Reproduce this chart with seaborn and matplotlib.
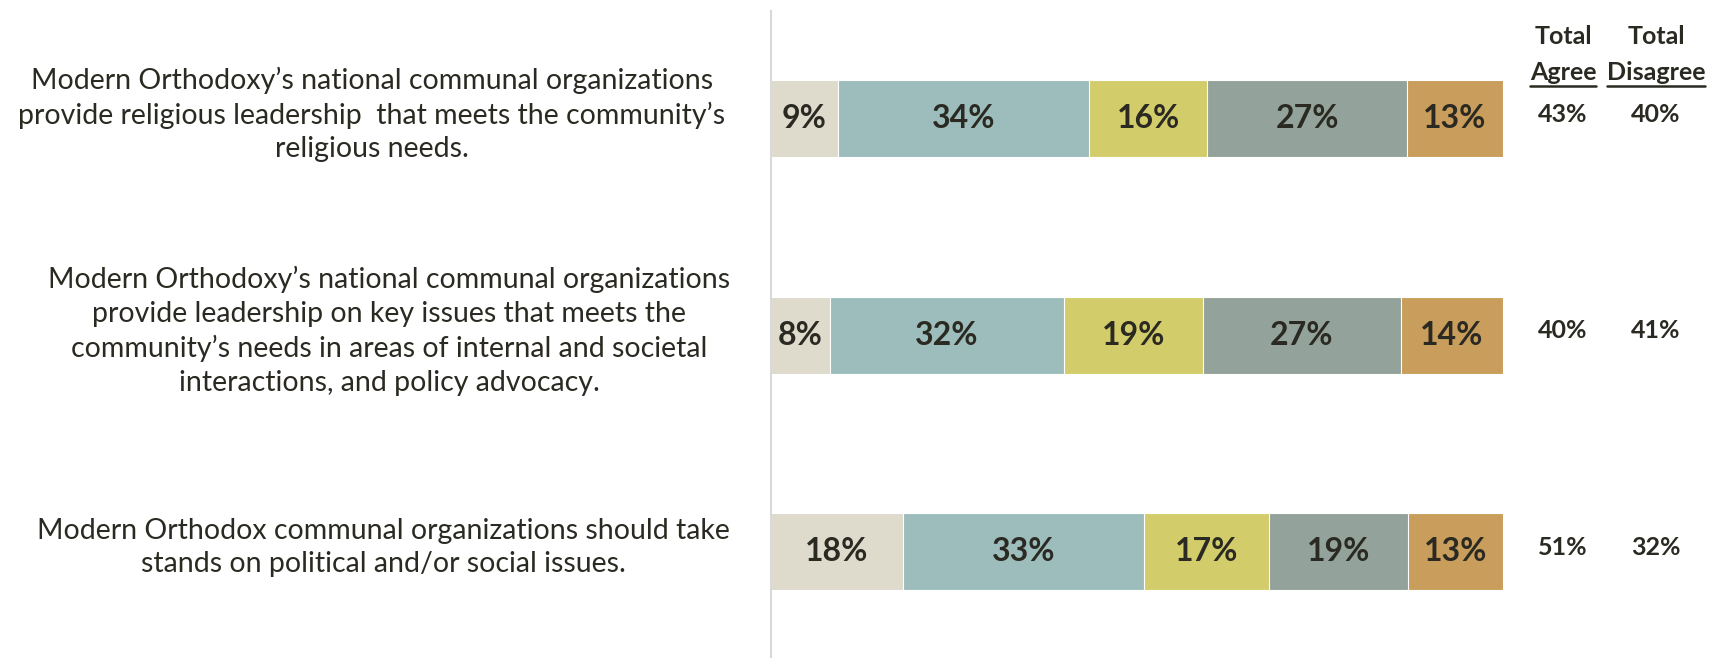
import numpy as np
import pandas as pd
import matplotlib
matplotlib.use("Agg")
import matplotlib.pyplot as plt
import matplotlib.transforms as mtransforms
from matplotlib.lines import Line2D
import seaborn as sns

# Survey statements (left labels)
questions = [
    "Modern Orthodoxy\u2019s national communal organizations\n"
    "provide religious leadership  that meets the community\u2019s\n"
    "religious needs.",
    "Modern Orthodoxy\u2019s national communal organizations\n"
    "provide leadership on key issues that meets the\n"
    "community\u2019s needs in areas of internal and societal\n"
    "interactions, and policy advocacy.",
    "Modern Orthodox communal organizations should take\n"
    "stands on political and/or social issues.",
]
question_ids = ["Q1", "Q2", "Q3"]

# Response shares (%), left to right
strongly_agree = [9, 8, 18]
somewhat_agree = [34, 32, 33]
neutral = [16, 19, 17]
somewhat_disagree = [27, 27, 19]
strongly_disagree = [13, 14, 13]

total_agree = [43, 40, 51]
total_disagree = [40, 41, 32]

segment_colors = ["#DEDBCC", "#9DBDBD", "#D3CC6B", "#93A39B", "#C99D5B"]
TEXT = "#2B2A22"

df = pd.DataFrame({
    "strongly_agree": strongly_agree,
    "somewhat_agree": somewhat_agree,
    "neutral": neutral,
    "somewhat_disagree": somewhat_disagree,
    "strongly_disagree": strongly_disagree,
}, index=question_ids)
# 100% stacked bars
shares = df.div(df.sum(axis=1), axis=0) * 100
cum = shares.cumsum(axis=1)

sns.set_theme(style="white")
plt.rcParams["font.family"] = ["Lato", "DejaVu Sans"]

W, H = 1720, 658
fig = plt.figure(figsize=(W / 100, H / 100), dpi=100)
ax = fig.add_axes([771 / W, 0, 732 / W, 647 / H])

cols = list(df.columns)
for col, color in reversed(list(zip(cols, segment_colors))):
    sns.barplot(x=cum[col].values, y=question_ids, orient="h", color=color,
                saturation=1, width=0.356, edgecolor="white", linewidth=0.8, ax=ax)

# segment labels
for i, q in enumerate(question_ids):
    for col in cols:
        mid = cum.loc[q, col] - shares.loc[q, col] / 2
        ax.text(mid, i, f"{df.loc[q, col]}%", ha="center", va="center",
                fontsize=23, fontweight="bold", color=TEXT)

ax.set_xlim(0, 100)
ax.set_ylim(2.49, -0.497)
ax.set_xticks([])
ax.set_yticks([])
ax.set_xlabel("")
ax.set_ylabel("")
for s in ["top", "right", "bottom"]:
    ax.spines[s].set_visible(False)
ax.spines["left"].set_color("#D9D9D9")
ax.spines["left"].set_linewidth(1.5)

# statement labels on the left
blend = mtransforms.blended_transform_factory(fig.transFigure, ax.transData)
label_x = [372, 389, 383]
for i, q in enumerate(questions):
    ax.text(label_x[i] / W, i - 0.02, q, transform=blend, ha="center", va="center",
            multialignment="center", fontsize=20.5, color=TEXT, linespacing=1.36)

# totals columns
agree_x, disagree_x = 1563 / W, 1656 / W
for i in range(len(question_ids)):
    ax.text(agree_x, i - 0.02, f"{total_agree[i]}%", transform=blend, ha="center",
            va="center", fontsize=18, fontweight="bold", color=TEXT)
    ax.text(disagree_x, i - 0.02, f"{total_disagree[i]}%", transform=blend, ha="center",
            va="center", fontsize=18, fontweight="bold", color=TEXT)

heads = []
for x, word in [(agree_x, "Agree"), (disagree_x, "Disagree")]:
    fig.text(x, 1 - 37 / H, "Total", ha="center", va="center",
             fontsize=18, fontweight="bold", color=TEXT)
    heads.append(fig.text(x, 1 - 72 / H, word, ha="center", va="center",
                          fontsize=18, fontweight="bold", color=TEXT))

fig.canvas.draw()
renderer = fig.canvas.get_renderer()
for t in heads:
    bb = t.get_window_extent(renderer).transformed(fig.transFigure.inverted())
    fig.add_artist(Line2D([bb.x0, bb.x1], [bb.y0 - 2 / H, bb.y0 - 2 / H],
                          transform=fig.transFigure, color=TEXT, linewidth=1.8))

fig.savefig("out.png", dpi=100, facecolor="white")
